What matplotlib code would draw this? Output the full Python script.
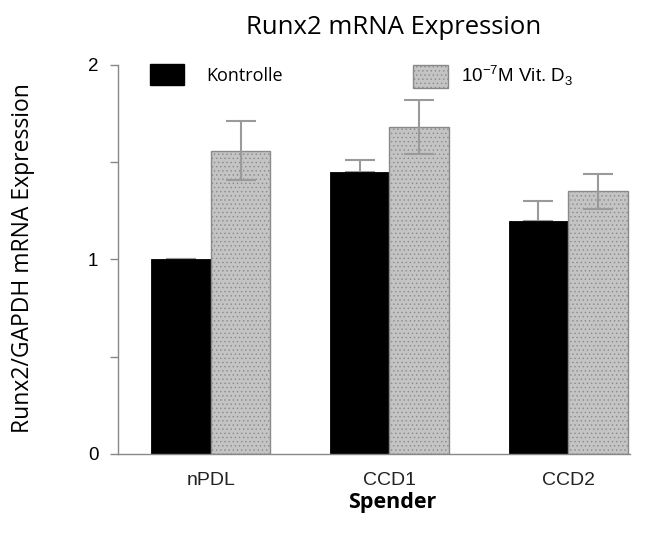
import matplotlib
matplotlib.use("Agg")
import matplotlib.pyplot as plt
import numpy as np
from matplotlib.patches import Patch

categories = ["nPDL", "CCD1", "CCD2"]
series_names = ["Kontrolle", r"10$^{\mathregular{-7}}$M Vit. D$_{\mathregular{3}}$"]
kontrolle = [1.00, 1.45, 1.20]
kontrolle_err = [0.00, 0.06, 0.10]
vitd3 = [1.56, 1.68, 1.35]
vitd3_err = [0.15, 0.14, 0.09]

plt.rcParams['hatch.color'] = '#b4b4b4'
plt.rcParams['hatch.linewidth'] = 0.5

fig = plt.figure(figsize=(6.7, 5.37), dpi=100)
ax = fig.add_axes([0.176, 0.1546, 0.764, 0.7244])

x = np.arange(len(categories))
w = 0.333
ecol = "#9a9a9a"
gray_face = "#c4c4c4"
gray_edge = "#8a8a8a"
ax.bar(x - w / 2, kontrolle, w, color="black", edgecolor="black", linewidth=0.6, zorder=2)
ax.errorbar(x - w / 2, kontrolle, yerr=[np.zeros(3), kontrolle_err], fmt="none",
            ecolor=ecol, elinewidth=1.5, capsize=11, capthick=1.5, zorder=1)
ax.bar(x + w / 2, vitd3, w, color=gray_face, edgecolor=gray_edge, linewidth=1.0,
       hatch="....", zorder=2)
ax.errorbar(x + w / 2, vitd3, yerr=vitd3_err, fmt="none",
            ecolor=ecol, elinewidth=1.5, capsize=11, capthick=1.5, zorder=3)

ax.set_xlim(-0.52, 2.345)
ax.set_ylim(0, 2)
ax.set_xticks(x)
ax.set_xticklabels(categories, fontsize=14, family="Liberation Sans", color="#222222")
ax.tick_params(axis="x", length=0, pad=13)
ax.set_yticks([0, 0.5, 1, 1.5, 2])
ax.set_yticklabels(["0", "", "1", "", "2"], fontsize=13.5, family="Liberation Sans")
ax.tick_params(axis="y", direction="out", length=6, width=1, color="#888888", pad=8)
for s in ["top", "right"]:
    ax.spines[s].set_visible(False)
for s in ["left", "bottom"]:
    ax.spines[s].set_color("#888888")
    ax.spines[s].set_linewidth(1.0)

fig.text(0.588, 0.948, "Runx2 mRNA Expression", ha="center", va="center",
         fontsize=18.5, family="Open Sans")
fig.text(0.034, 0.52, "Runx2/GAPDH mRNA Expression", ha="center", va="center",
         rotation=90, fontsize=16.5, family="Open Sans")
fig.text(0.585, 0.064, "Spender", ha="center", va="center",
         fontsize=15.5, family="Open Sans", weight="bold")

h1 = Patch(facecolor="black", edgecolor="black")
h2 = Patch(facecolor=gray_face, edgecolor=gray_edge, hatch="....")
leg1 = ax.legend([h1], [series_names[0]], loc="upper left",
                 bbox_to_anchor=(0.0625, 1.003), frameon=False, borderpad=0, borderaxespad=0,
                 handlelength=1.9, handleheight=1.45, handletextpad=1.2,
                 prop={"family": "Open Sans", "size": 13})
ax.add_artist(leg1)
leg2 = ax.legend([h2], [series_names[1]], loc="upper left",
                 bbox_to_anchor=(0.576, 1.003), frameon=False, borderpad=0, borderaxespad=0,
                 handlelength=1.9, handleheight=1.45, handletextpad=0.65,
                 prop={"family": "Liberation Sans", "size": 13.5})

fig.savefig("out.png", dpi=100)
